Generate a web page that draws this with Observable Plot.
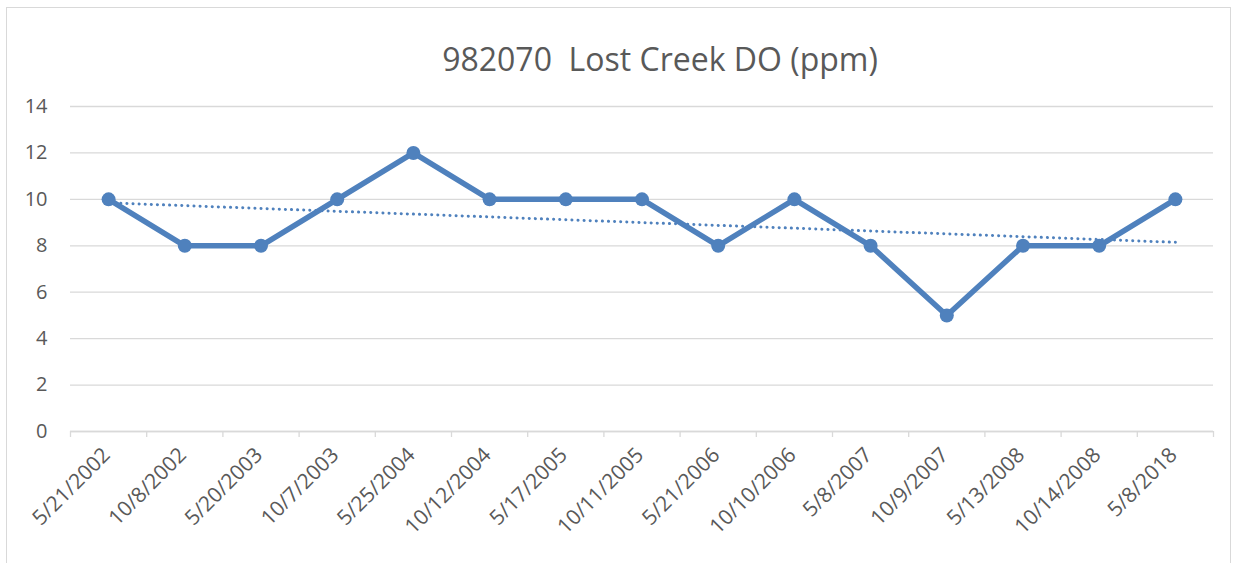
<!DOCTYPE html>
<html>
<head>
<meta charset="utf-8">
<script src="https://cdn.jsdelivr.net/npm/d3@7"></script>
<script src="https://cdn.jsdelivr.net/npm/@observablehq/plot@0.6"></script>
<style>
  html, body { margin: 0; padding: 0; background: #fff; }
  #wrap { position: relative; width: 1239px; height: 563px; overflow: hidden; font-family: "Open Sans", "Noto Sans", sans-serif; }
  #frame { position: absolute; left: 6px; top: 7px; width: 1225px; height: 600px; border: 1px solid #d9d9d9; box-sizing: border-box; }
  #title { position: absolute; left: 0; width: 1320px; top: 37px; text-align: center; font-size: 32px; line-height: 44px; color: #595959; white-space: pre; }
  #chart { position: absolute; left: 0; top: 0; }
  #chart svg g[aria-label="y-axis tick label"] text { font-size: 20px; }
  #chart svg g[aria-label="x-axis tick label"] text { font-size: 21px; }
</style>
</head>
<body>
<div id="wrap">
  <div id="frame"></div>
  <div id="chart"></div>
  <div id="title">982070  Lost Creek DO (ppm)</div>
</div>
<script>
const dates = ["5/21/2002","10/8/2002","5/20/2003","10/7/2003","5/25/2004","10/12/2004","5/17/2005","10/11/2005","5/21/2006","10/10/2006","5/8/2007","10/9/2007","5/13/2008","10/14/2008","5/8/2018"];
const doValues = [10, 8, 8, 10, 12, 10, 10, 10, 8, 10, 8, 5, 8, 8, 10];
const yTicks = [0, 2, 4, 6, 8, 10, 12, 14];

const data = dates.map((d, i) => ({i, date: d, value: doValues[i]}));
const boundaries = dates.map((d, i) => i - 0.5).concat([dates.length - 0.5]);
const color = "#4f81bd";
const grey = "#d9d9d9";
const textColor = "#595959";

const chart = Plot.plot({
  width: 1239,
  height: 563,
  marginTop: 106,
  marginLeft: 70,
  marginRight: 26,
  marginBottom: 132,
  style: {fontFamily: "'Open Sans', 'Noto Sans', sans-serif", fontSize: "20px", color: textColor, background: "transparent"},
  x: {type: "linear", domain: [-0.5, dates.length - 0.5]},
  y: {domain: [0, 14]},
  marks: [
    Plot.gridY(yTicks, {stroke: grey, strokeOpacity: 1, strokeWidth: 1.3}),
    Plot.axisY(yTicks, {tickSize: 0, tickPadding: 23, fontSize: 20, fill: textColor, label: null}),
    Plot.ruleY([0], {stroke: grey, strokeWidth: 1.3}),
    Plot.axisX(boundaries, {tickSize: 6, stroke: grey, strokeWidth: 1.3, tickFormat: () => "", label: null}),
    Plot.axisX(data.map(d => d.i), {tickSize: 0, tickPadding: 20, dx: -2, tickRotate: -45, tickFormat: i => dates[i], fill: textColor, label: null}),
    Plot.linearRegressionY(data, {x: "i", y: "value", stroke: color, strokeWidth: 3, strokeDasharray: "0.1,6", strokeLinecap: "round", ci: 0}),
    Plot.line(data, {x: "i", y: "value", stroke: color, strokeWidth: 5.5, strokeLinejoin: "round"}),
    Plot.dot(data, {x: "i", y: "value", r: 7, fill: color, stroke: "none"})
  ]
});
document.getElementById("chart").appendChild(chart);
</script>
</body>
</html>
